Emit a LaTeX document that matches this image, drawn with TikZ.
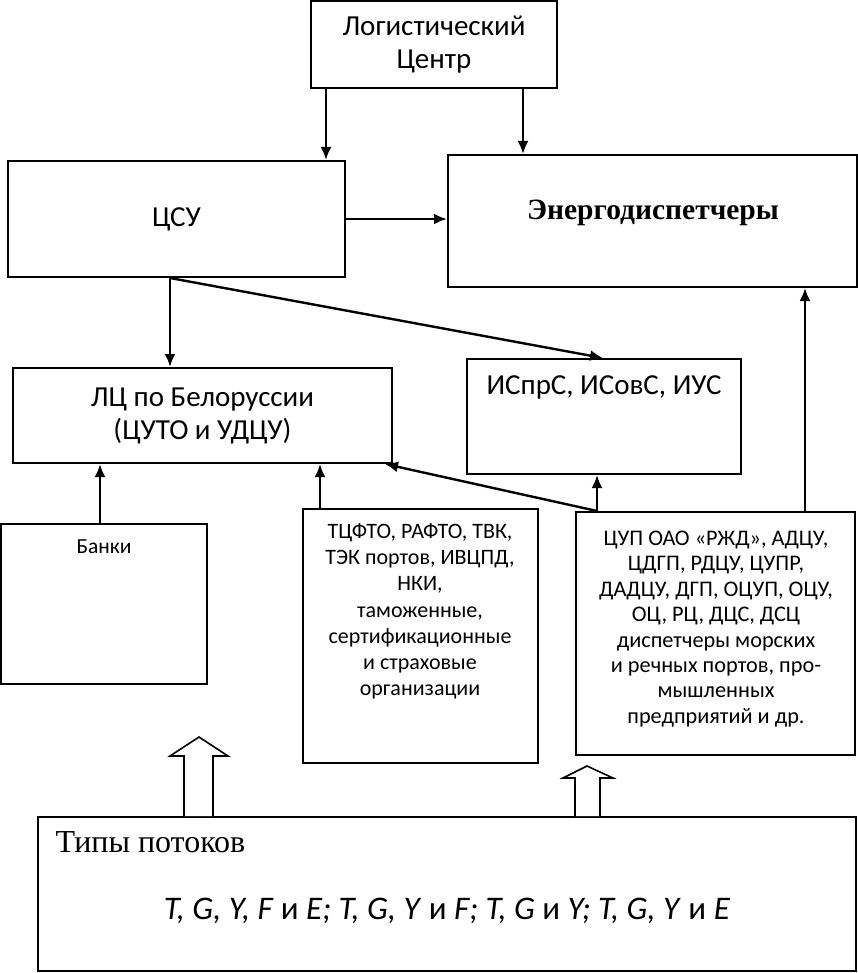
\documentclass[tikz,border=0pt]{standalone}
\usepackage{fontspec}
\setmainfont{Carlito}
\newfontfamily\timesfont{Liberation Serif}
\usetikzlibrary{arrows.meta}
\tikzset{
  box/.style={draw,line width=2pt,inner sep=0pt},
  arr/.style={-{Latex[length=13pt,width=11pt]},line width=2.4pt},
  hollow/.style={draw,line width=1.6pt,fill=white},
  big/.style={font=\fontsize{29}{33}\selectfont,align=center},
}
\begin{document}
\begin{tikzpicture}[x=1pt,y=-1pt]
    \useasboundingbox (0,0) rectangle (858,973);
    \node[box,big,minimum width=246,minimum height=87](lc) at (434,44.5) {Логистический\\Центр};
    \node[box,big,minimum width=337,minimum height=116](csu) at (176.5,219) {ЦСУ};
    \node[box,minimum width=409,minimum height=132](en) at (652.5,221) {};
    \node[font=\timesfont\bfseries\fontsize{29.5}{34}\selectfont](entext) at (653,213) {Энергодиспетчеры};
    \node[box,big,minimum width=379,minimum height=95](blr) at (202.5,415.5) {ЛЦ по Белоруссии\\(ЦУТО и УДЦУ)};
    \node[box,minimum width=274,minimum height=115](isp) at (604,416.5) {};
    \node[big](isptext) at (604,387) {ИСпрС, ИСовС, ИУС};
    \node[box,minimum width=206,minimum height=160](bank) at (104,604) {};
    \node[font=\fontsize{21.5}{25}\selectfont](banktext) at (104,547) {Банки};
    \node[box,minimum width=235,minimum height=254](tcf) at (420.5,636) {};
    \node[font=\fontsize{22}{26.2}\selectfont,align=center](tcftext) at (420,611.5) {ТЦФТО, РАФТО, ТВК,\\ТЭК портов, ИВЦПД,\\НКИ,\\таможенные,\\сертификационные\\и страховые\\организации};
    \node[box,minimum width=279,minimum height=243](cup) at (715.5,633.5) {};
    \node[font=\fontsize{22.3}{25.4}\selectfont,align=center](cuptext) at (716,629) {ЦУП ОАО «РЖД», АДЦУ,\\ЦДГП, РДЦУ, ЦУПР,\\ДАДЦУ, ДГП, ОЦУП, ОЦУ,\\ОЦ, РЦ, ДЦС, ДСЦ\\диспетчеры морских\\и речных портов, про-\\мышленных\\предприятий и др.};
    \node[box,minimum width=818,minimum height=154](types) at (447,894) {};
    \node[font=\timesfont\fontsize{32}{36}\selectfont,anchor=west](typestitle) at (52,842) {Типы потоков};
    \node[font=\fontsize{33}{38}\selectfont](typestext) at (447,911) {\textit{T, G, Y, F} и \textit{E; T, G, Y} и \textit{F; T, G} и \textit{Y; T, G, Y} и \textit{E}};
    \path[arr] (lc.south -| 326,0) edge (csu.north -| 326,0);
    \path[arr] (lc.south -| 523,0) edge (en.north -| 523,0);
    \path[arr] (csu.east) edge (en.west |- csu.east);
    \path[arr] (csu.south -| 170,0) edge (blr.north -| 170,0);
    \path[arr] (csu.south -| 170,0) edge (isp.north -| 603,0);
    \path[arr] (bank.north -| 100,0) edge (blr.south -| 100,0);
    \path[arr] (tcf.north -| 320,0) edge (blr.south -| 320,0);
    \path[arr] (cup.north -| 597,0) edge (blr.south -| 385,0);
    \path[arr] (cup.north -| 597,0) edge (isp.south -| 597,0);
    \path[arr] (cup.north -| 805,0) edge (en.south -| 805,0);
    \draw[hollow] (types.north -| 184,0) -- (184,756) -- (170,756) -- (199,737) -- (228,756) -- (213,756) -- (types.north -| 213,0);
    \draw[hollow] (types.north -| 575,0) -- (575,778) -- (563,778) -- (587,766) -- (613,778) -- (600,778) -- (types.north -| 600,0);
  \end{tikzpicture}
\end{document}
